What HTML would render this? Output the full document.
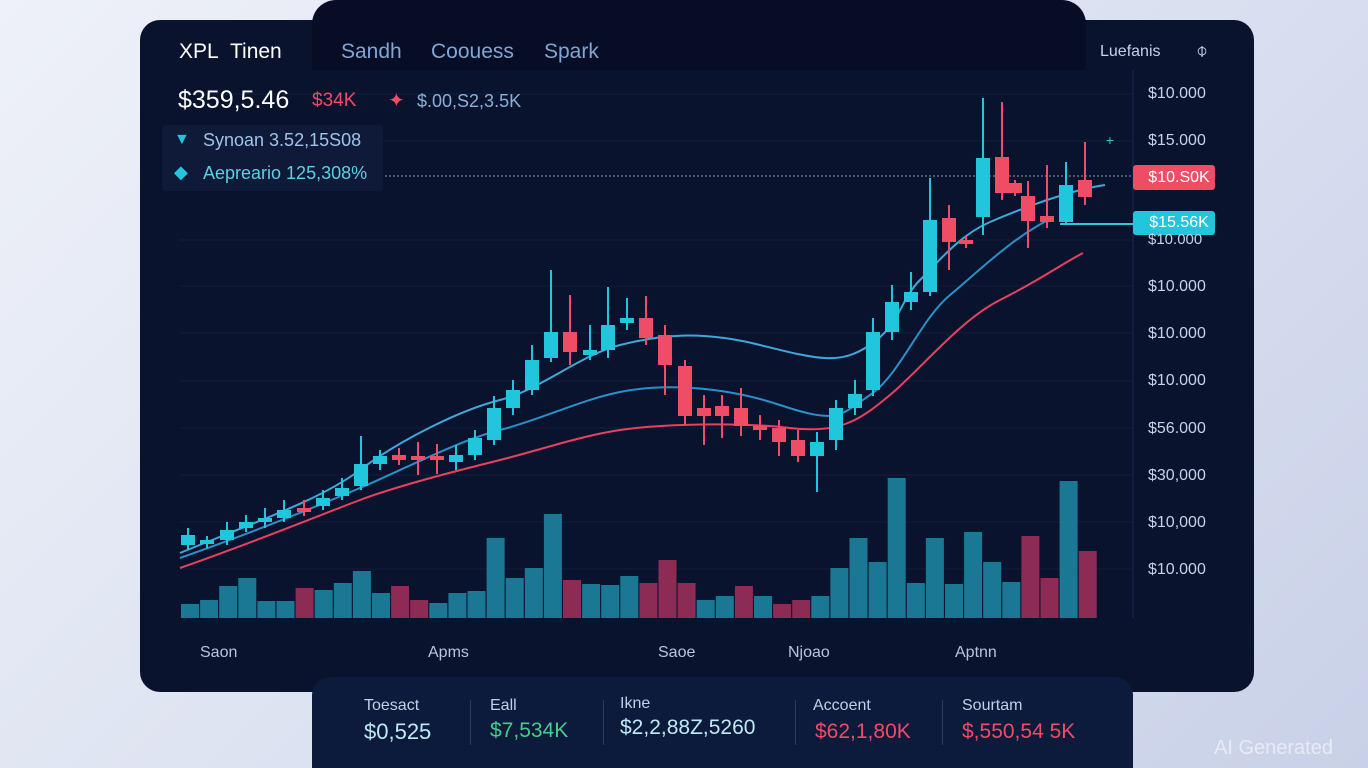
<!DOCTYPE html><html><head><meta charset="utf-8"><style>
body{margin:0;width:1368px;height:768px;overflow:hidden;background:linear-gradient(135deg,#eef1f8 0%,#d9dff0 60%,#c9d1e8 100%);font-family:"Liberation Sans",sans-serif;position:relative}
.card{position:absolute;left:140px;top:20px;width:1114px;height:672px;background:#0a132e;border-radius:20px}
.tab{position:absolute;left:312px;top:0;width:774px;height:60px;background:#080f26}
.t{position:absolute;white-space:nowrap}
.bot{position:absolute;left:312px;top:677px;width:821px;height:91px;background:#0c1a3b;border-radius:18px 18px 0 0}
</style></head><body>
<div class="card"></div>
<div class="tab" style="border-radius:24px 24px 0 0;height:70px;background:#070d24"></div>
<svg width="1368" height="768" style="position:absolute;left:0;top:0">
<g stroke="#131d3b" stroke-width="1">
<line x1="180" y1="94" x2="1133" y2="94"/><line x1="180" y1="141" x2="1133" y2="141"/><line x1="180" y1="240" x2="1133" y2="240"/><line x1="180" y1="286" x2="1133" y2="286"/><line x1="180" y1="333" x2="1133" y2="333"/><line x1="180" y1="381" x2="1133" y2="381"/><line x1="180" y1="428" x2="1133" y2="428"/><line x1="180" y1="475" x2="1133" y2="475"/><line x1="180" y1="522" x2="1133" y2="522"/><line x1="180" y1="569" x2="1133" y2="569"/>
<line x1="1133" y1="70" x2="1133" y2="618" stroke="#1c2a4d"/>
</g>
<rect x="162" y="125" width="221" height="66" fill="#0e1a38" rx="4"/>
<g id="vol"></g><g id="ma" fill="none" stroke-width="2">
<path d="M180,553 C260,520 320,500 360,470 S460,410 500,400 S580,355 620,345 S700,330 760,345 S840,365 870,345 S900,300 920,280 S960,235 990,222 S1070,190 1105,185" stroke="#3fa8d8"/>
<path d="M180,558 C260,530 320,505 360,488 S460,440 500,430 S580,400 620,392 S720,385 780,405 S840,415 870,395 S920,320 950,295 S1010,240 1048,220" stroke="#2b8fc8"/>
<path d="M180,568 C260,540 320,515 360,500 S460,470 500,460 S580,436 620,430 S740,422 790,428 S860,420 890,395 S960,320 1000,300 S1060,265 1083,253" stroke="#e8415f"/>
</g>
<line x1="385" y1="176" x2="1133" y2="176" stroke="#8899bb" stroke-dasharray="2,2" stroke-width="1"/>
<line x1="1060" y1="224" x2="1133" y2="224" stroke="#2ec8dc" stroke-width="2"/>
<g id="c"></g>
<rect x="1133" y="165" width="82" height="25" fill="#ef4c66" rx="3"/>
<rect x="1133" y="211" width="82" height="24" fill="#22c6dc" rx="3"/>
<text x="1110" y="145" fill="#2ec8c0" font-size="14" text-anchor="middle">+</text>
</svg>
<script>
var C=[[188,535,545,528,550,1],[207,540,544,536,548,1],[227,530,540,522,545,1],[246,522,528,515,532,1],[265,518,522,508,528,1],[284,510,518,500,522,1],[304,508,512,500,516,0],[323,498,506,490,510,1],[342,488,496,478,500,1],[361,464,486,436,490,1],[380,456,464,450,470,1],[399,455,460,448,465,0],[418,456,460,442,475,0],[437,456,460,444,474,0],[456,455,462,445,470,1],[475,438,455,430,460,1],[494,408,440,396,445,1],[513,390,408,380,415,1],[532,360,390,345,395,1],[551,332,358,270,362,1],[570,332,352,295,365,0],[590,350,355,325,360,1],[608,325,350,287,358,1],[627,318,323,298,330,1],[646,318,338,296,345,0],[665,335,365,325,395,0],[685,366,416,360,425,0],[704,408,416,395,445,0],[722,406,416,395,438,0],[741,408,426,388,436,0],[760,426,430,415,440,0],[779,428,442,420,456,0],[798,440,456,430,462,0],[817,442,456,432,492,1],[836,408,440,400,450,1],[855,394,408,380,415,1],[873,332,390,318,396,1],[892,302,332,285,340,1],[911,292,302,272,310,1],[930,220,292,178,296,1],[949,218,242,205,270,0],[966,240,244,236,248,0],[983,158,217,98,235,1],[1002,157,193,102,200,0],[1015,183,193,180,196,0],[1028,196,221,181,248,0],[1047,216,222,165,228,0],[1066,185,222,162,225,1],[1085,180,197,142,205,0]];
var V=[604,600,586,578,601,601,588,590,583,571,593,586,600,603,593,591,538,578,568,514,580,584,585,576,583,560,583,600,596,586,596,604,600,596,568,538,562,478,583,538,584,532,562,582,536,578,481,551];
var VR=[0,0,0,0,0,0,1,0,0,0,0,1,1,0,0,0,0,0,0,0,1,0,0,0,1,1,1,0,0,1,0,1,1,0,0,0,0,0,0,0,0,0,0,0,1,1,0,1];
var s='',v='';
C.forEach(function(k,i){var col=k[5]?'#22c6dc':'#ef4c66';s+='<line x1="'+k[0]+'" x2="'+k[0]+'" y1="'+k[3]+'" y2="'+k[4]+'" stroke="'+col+'" stroke-width="2"/><rect x="'+(k[0]-7)+'" y="'+k[1]+'" width="14" height="'+Math.max(3,k[2]-k[1])+'" fill="'+col+'"/>';});
V.forEach(function(t,i){var x=181+i*19.1;v+='<rect x="'+x+'" y="'+t+'" width="18" height="'+(618-t)+'" fill="'+(VR[i]?'#8c2c55':'#1a7895')+'"/>';});
document.getElementById('c').innerHTML=s;document.getElementById('vol').innerHTML=v;
</script>
<div class="t" style="left:179px;top:40px;font-size:21px;color:#fff">XPL&nbsp; Tinen</div>
<div class="t" style="left:341px;top:40px;font-size:21px;color:#7fa6d4">Sandh</div>
<div class="t" style="left:431px;top:40px;font-size:21px;color:#7fa6d4">Coouess</div>
<div class="t" style="left:544px;top:40px;font-size:21px;color:#7fa6d4">Spark</div>
<div class="t" style="left:1100px;top:43px;font-size:16px;color:#c8d2e6">Luefanis</div>
<div class="t" style="left:1196px;top:40px;font-size:20px;color:#c8d2e6">⌽</div>
<div class="t" style="left:178px;top:86px;font-size:25px;color:#fff">$359,5.46</div>
<div class="t" style="left:312px;top:90px;font-size:19px;color:#ef4c66">$34K</div>
<div class="t" style="left:388px;top:88px;font-size:20px;color:#ef4c66">✦</div>
<div class="t" style="left:417px;top:91px;font-size:18px;color:#8ab0d8">$.00,S2,3.5K</div>
<div class="t" style="left:174px;top:131px;font-size:16px;color:#22c6dc">▼</div>
<div class="t" style="left:203px;top:130px;font-size:18px;color:#9ec4e8">Synoan 3.52,15S08</div>
<div class="t" style="left:174px;top:162px;font-size:18px;color:#22c6dc">◆</div>
<div class="t" style="left:203px;top:163px;font-size:18px;color:#5ad0e0">Aepreario 125,308%</div>
<div class="t" style="left:1148px;top:85px;font-size:16px;color:#c8d2e6">$10.000</div>
<div class="t" style="left:1148px;top:132px;font-size:16px;color:#c8d2e6">$15.000</div>
<div class="t" style="left:1148px;top:231px;font-size:15px;color:#c8d2e6">$10.000</div>
<div style="position:absolute;left:1148px;top:263px;font-size:16px;color:#c8d2e6;line-height:47.2px">$10.000<br>$10.000<br>$10.000<br>$56.000<br>$30,000<br>$10,000<br>$10.000</div>
<div class="t" style="left:1143px;top:169px;font-size:16px;color:#fff;width:72px;text-align:center">$10.S0K</div>
<div class="t" style="left:1143px;top:214px;font-size:16px;color:#fff;width:72px;text-align:center">$15.56K</div>
<div class="t" style="left:200px;top:644px;font-size:16px;color:#b8c4dc">Saon</div>
<div class="t" style="left:428px;top:644px;font-size:16px;color:#b8c4dc">Apms</div>
<div class="t" style="left:658px;top:644px;font-size:16px;color:#b8c4dc">Saoe</div>
<div class="t" style="left:788px;top:644px;font-size:16px;color:#b8c4dc">Njoao</div>
<div class="t" style="left:955px;top:644px;font-size:16px;color:#b8c4dc">Aptnn</div>
<div class="bot"></div>
<div style="position:absolute;top:700px;left:470px;width:1px;height:45px;background:#2a3a60"></div>
<div style="position:absolute;top:700px;left:603px;width:1px;height:45px;background:#2a3a60"></div>
<div style="position:absolute;top:700px;left:795px;width:1px;height:45px;background:#2a3a60"></div>
<div style="position:absolute;top:700px;left:942px;width:1px;height:45px;background:#2a3a60"></div>
<div class="t" style="left:364px;top:697px;font-size:16px;color:#c0d0e8">Toesact</div>
<div class="t" style="left:364px;top:719px;font-size:22px;color:#bfeaf5">$0,525</div>
<div class="t" style="left:490px;top:697px;font-size:16px;color:#c0d0e8">Eall</div>
<div class="t" style="left:490px;top:719px;font-size:21px;color:#3fd08a">$7,534K</div>
<div class="t" style="left:620px;top:695px;font-size:16px;color:#c0d0e8">Ikne</div>
<div class="t" style="left:620px;top:716px;font-size:21px;color:#bfeaf5">$2,2,88Z,5260</div>
<div class="t" style="left:813px;top:697px;font-size:16px;color:#c0d0e8">Accoent</div>
<div class="t" style="left:815px;top:720px;font-size:21px;color:#ef4c66">$62,1,80K</div>
<div class="t" style="left:962px;top:697px;font-size:16px;color:#c0d0e8">Sourtam</div>
<div class="t" style="left:962px;top:720px;font-size:21px;color:#ef4c66">$,550,54 5K</div>
<div class="t" style="left:1214px;top:737px;font-size:20px;color:rgba(255,255,255,0.55)">AI Generated</div>
</body></html>
